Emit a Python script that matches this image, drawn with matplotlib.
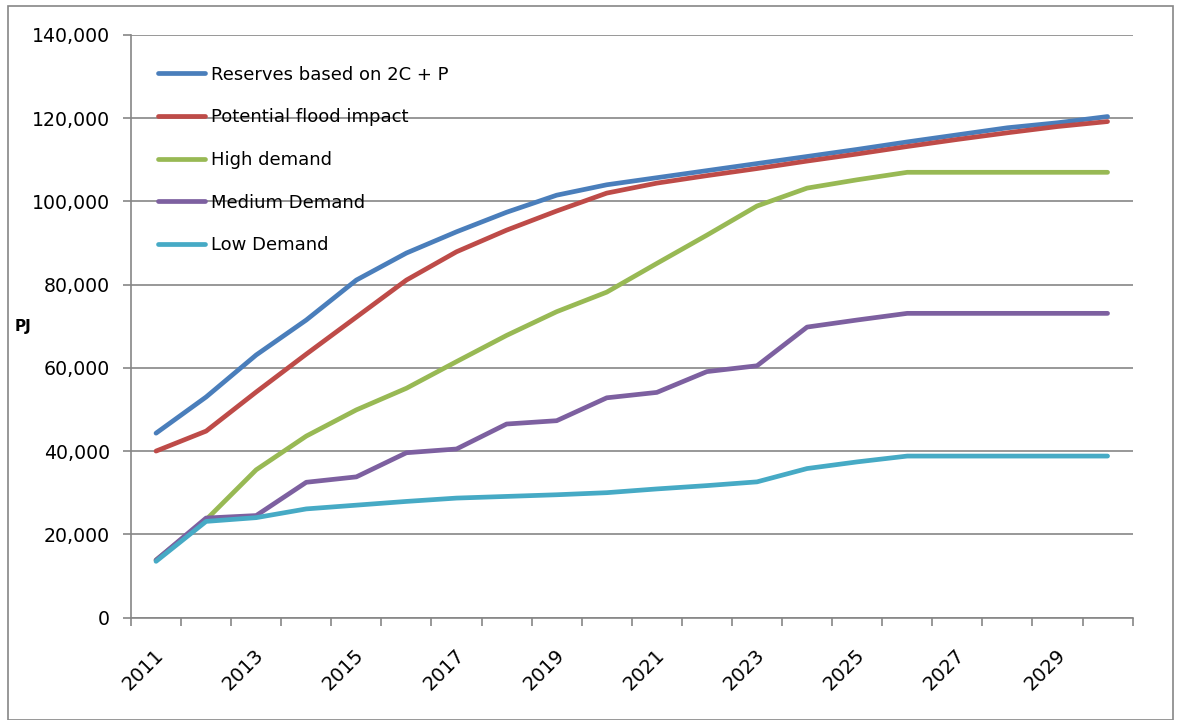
import matplotlib
matplotlib.use("Agg")
import matplotlib.pyplot as plt
from matplotlib.patches import Rectangle
from matplotlib.ticker import FuncFormatter
from matplotlib.transforms import ScaledTranslation

years = list(range(2011, 2031))

reserves_2c_p = [44300, 53000, 63100, 71500, 81100, 87600, 92700, 97400, 101500, 104000,
                 105700, 107400, 109100, 110800, 112500, 114300, 116000, 117700, 118900, 120400]
flood_impact = [40000, 44800, 54200, 63300, 72200, 81100, 87900, 93100, 97700, 102000,
                104400, 106200, 107900, 109700, 111400, 113200, 114900, 116500, 118000, 119200]
high_demand = [13800, 23500, 35500, 43600, 49900, 55100, 61500, 67800, 73500, 78200,
               85100, 91900, 98900, 103200, 105200, 107000, 107000, 107000, 107000, 107000]
medium_demand = [13800, 23900, 24500, 32500, 33800, 39600, 40500, 46500, 47300, 52800,
                 54100, 59100, 60500, 69800, 71500, 73100, 73100, 73100, 73100, 73100]
low_demand = [13500, 23100, 24000, 26100, 27000, 27900, 28700, 29100, 29500, 30000,
              30900, 31700, 32600, 35800, 37400, 38800, 38800, 38800, 38800, 38800]

series = [
    ("Reserves based on 2C + P", reserves_2c_p, "#4A7EBB"),
    ("Potential flood impact", flood_impact, "#BE4B48"),
    ("High demand", high_demand, "#98B954"),
    ("Medium Demand", medium_demand, "#7D60A0"),
    ("Low Demand", low_demand, "#46AAC5"),
]

plt.rcParams["font.family"] = ["DejaVu Sans"]
fig = plt.figure(figsize=(11.81, 7.2), dpi=100)
ax = fig.add_axes([131 / 1181, 1 - 617.5 / 720, (1132.6 - 131) / 1181, (617.5 - 35) / 720])

grey = "#868686"
x = list(range(len(years)))
handles = []
for name, vals, col in series:
    h, = ax.plot(x, vals, color=col, lw=3.4, solid_capstyle="round",
                 solid_joinstyle="round", label=name, zorder=3)
    handles.append(h)

ax.set_xlim(-0.5, len(years) - 0.5)
ax.set_ylim(0, 140000)
ax.set_yticks(range(0, 140001, 20000))
ax.yaxis.set_major_formatter(FuncFormatter(lambda v, p: f"{int(v):,}"))
ax.grid(axis="y", color=grey, lw=1.2, zorder=1)
ax.set_axisbelow(True)

for s in ("top", "right"):
    ax.spines[s].set_visible(False)
for s in ("left", "bottom"):
    ax.spines[s].set_color(grey)
    ax.spines[s].set_linewidth(1.2)

# category boundary tick marks, labels on every other year
ax.set_xticks([i - 0.5 for i in range(len(years) + 1)], minor=True)
ax.set_xticks(x[::2])
ax.set_xticklabels([str(y) for y in years[::2]], rotation=45, ha="right",
                   rotation_mode="anchor", fontsize=14)
ax.tick_params(axis="x", which="major", length=0, pad=20)
ax.tick_params(axis="x", which="minor", length=6, color=grey, width=1.2)
ax.tick_params(axis="y", length=6, color=grey, width=1.2, labelsize=13.6, pad=9)
for lab in ax.get_xticklabels():
    lab.set_transform(lab.get_transform() + ScaledTranslation(-0.02, 0, fig.dpi_scale_trans))

fig.text(23 / 1181, 1 - 327 / 720, "PJ", fontsize=11, fontweight="bold",
         ha="center", va="center")

leg = ax.legend(handles=handles, loc="upper left", bbox_to_anchor=(0.020, 0.960),
                frameon=False, fontsize=13, handlelength=2.6, handletextpad=0.3,
                labelspacing=1.37, borderaxespad=0)

fig.patches.append(Rectangle((8 / 1181, 0), (1173 - 8) / 1181, 1 - 6 / 720,
                             transform=fig.transFigure, fill=False,
                             edgecolor=grey, lw=1.2))

fig.savefig("out.png", dpi=100)
